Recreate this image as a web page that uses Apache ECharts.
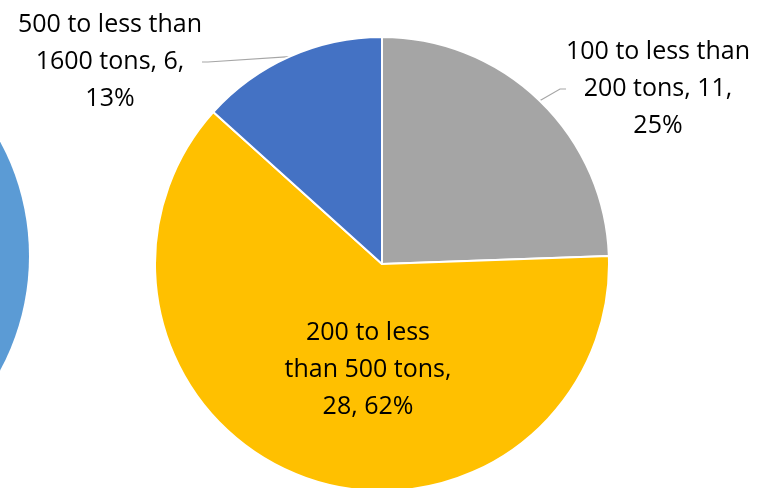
<!DOCTYPE html>
<html>
<head>
<meta charset="utf-8">
<script src="https://cdn.jsdelivr.net/npm/echarts@6/dist/echarts.min.js"></script>
<style>
  html, body { margin: 0; padding: 0; background: #fff; }
  #chart { width: 760px; height: 488px; }
</style>
</head>
<body>
<div id="chart"></div>
<script>
// data
const categories = ['100 to less than 200 tons', '200 to less than 500 tons', '500 to less than 1600 tons'];
const counts = [11, 28, 6];
const percents = ['25%', '62%', '13%'];
const sliceColors = ['#A5A5A5', '#FFC000', '#4472C4'];
// neighbouring pie, only a sliver is visible at the left edge
const leftPieValues = [1];

// label text broken like the original
const labelLines = [
    ['100 to less than', '200 tons, ' + counts[0] + ',', percents[0]],
    ['200 to less', 'than 500 tons,', counts[1] + ', ' + percents[1]],
    ['500 to less than', '1600 tons, ' + counts[2] + ',', percents[2]]
];
// label block centres (px)
const labelSpots = [[658, 89], [368, 370], [110, 62]];

const chart = echarts.init(document.getElementById('chart'), null, { renderer: 'canvas' });

const option = {
    animation: false,
    series: [
        {
            type: 'pie',
            center: [-212, 256],
            radius: 241,
            silent: true,
            label: { show: false },
            labelLine: { show: false },
            itemStyle: { color: '#5B9BD5' },
            data: leftPieValues.map(v => ({ value: v, name: 'other' }))
        },
        {
            type: 'pie',
            center: [382, 264],
            radius: 227,
            startAngle: 90,
            clockwise: true,
            itemStyle: { borderColor: '#fff', borderWidth: 2 },
            label: {
                fontFamily: 'Open Sans',
                fontSize: 25,
                lineHeight: 37,
                color: '#000',
                align: 'center',
                overflow: 'none'
            },
            labelLine: { lineStyle: { color: '#A6A6A6', width: 1.2 }, length: 12, length2: 6 },
            labelLayout: function (params) {
                const p = labelSpots[params.dataIndex];
                return { x: p[0], y: p[1], align: 'center', verticalAlign: 'middle' };
            },
            data: categories.map((c, i) => ({
                name: c,
                value: counts[i],
                itemStyle: { color: sliceColors[i] },
                label: {
                    position: i === 1 ? 'inside' : 'outside',
                    formatter: labelLines[i].join('\n')
                },
                labelLine: { show: i !== 1 }
            }))
        }
    ]
};

chart.setOption(option);
</script>
</body>
</html>
